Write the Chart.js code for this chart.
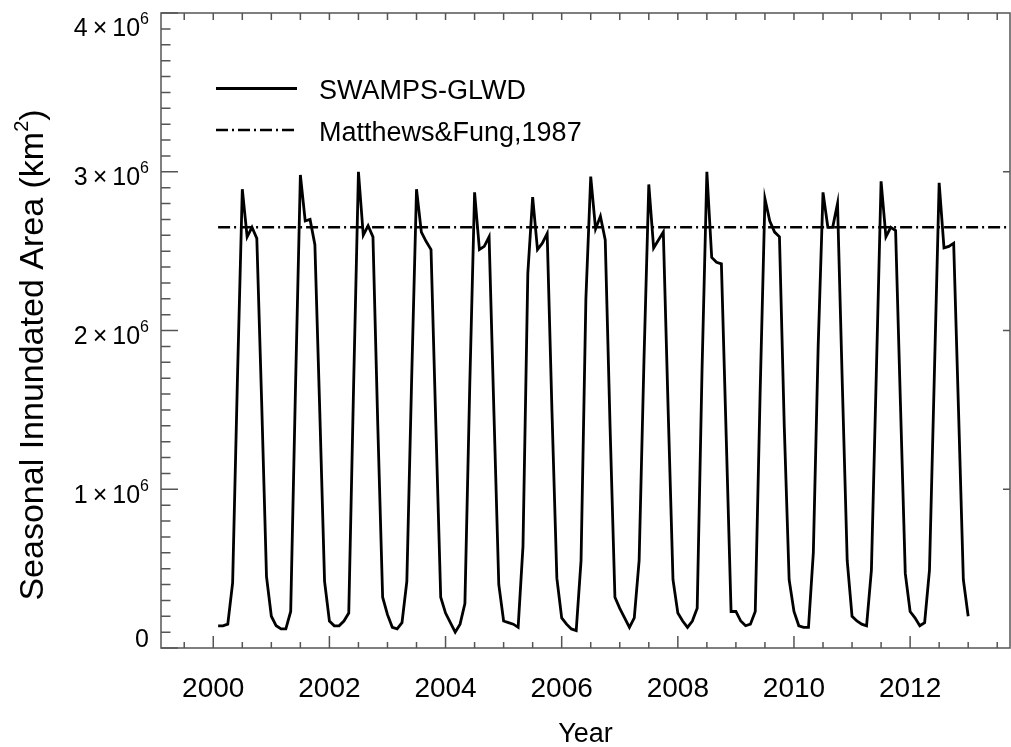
<!DOCTYPE html>
<html>
<head>
<meta charset="utf-8">
<script src="https://cdn.jsdelivr.net/npm/chart.js@4.4.1/dist/chart.umd.min.js"></script>
<style>
  html, body { margin: 0; padding: 0; background: #fff; }
  #wrap { width: 1011px; height: 747px; }
</style>
</head>
<body>
<div id="wrap"><canvas id="chart" width="1011" height="747"></canvas></div>
<script>
// monthly inundated area, 10^6 km2, Jan..Dec
const years = [2000, 2001, 2002, 2003, 2004, 2005, 2006, 2007, 2008, 2009, 2010, 2011, 2012];
const area2000 = [0.14, 0.14, 0.15, 0.41, 1.70, 2.89, 2.59, 2.65, 2.58, 1.55, 0.45, 0.20];
const area2001 = [0.14, 0.12, 0.12, 0.23, 1.65, 2.98, 2.69, 2.70, 2.54, 1.50, 0.42, 0.17];
const area2002 = [0.14, 0.14, 0.17, 0.22, 1.65, 3.00, 2.60, 2.66, 2.59, 1.40, 0.32, 0.21];
const area2003 = [0.13, 0.12, 0.16, 0.42, 1.70, 2.89, 2.62, 2.56, 2.51, 1.40, 0.32, 0.22];
const area2004 = [0.16, 0.10, 0.15, 0.28, 1.65, 2.87, 2.51, 2.53, 2.59, 1.48, 0.40, 0.17];
const area2005 = [0.16, 0.15, 0.13, 0.64, 2.36, 2.84, 2.51, 2.55, 2.61, 1.48, 0.44, 0.19];
const area2006 = [0.15, 0.12, 0.11, 0.55, 2.20, 2.97, 2.64, 2.72, 2.57, 1.39, 0.32, 0.25];
const area2007 = [0.19, 0.13, 0.19, 0.55, 1.81, 2.92, 2.52, 2.57, 2.62, 1.50, 0.43, 0.22];
const area2008 = [0.17, 0.13, 0.17, 0.25, 1.75, 3.00, 2.46, 2.43, 2.42, 1.33, 0.23, 0.23];
const area2009 = [0.17, 0.14, 0.15, 0.23, 1.60, 2.83, 2.69, 2.62, 2.59, 1.39, 0.43, 0.23];
const area2010 = [0.14, 0.13, 0.13, 0.60, 1.90, 2.87, 2.65, 2.65, 2.80, 1.65, 0.55, 0.20];
const area2011 = [0.17, 0.15, 0.14, 0.49, 1.71, 2.94, 2.59, 2.65, 2.63, 1.54, 0.47, 0.23];
const area2012 = [0.19, 0.14, 0.16, 0.49, 1.71, 2.93, 2.52, 2.53, 2.55, 1.50, 0.43, 0.20];
const monthly = [area2000, area2001, area2002, area2003, area2004, area2005, area2006,
                 area2007, area2008, area2009, area2010, area2011, area2012];

const matthewsFung = 2.65; // 10^6 km2, constant reference

const xTicks = [2000, 2002, 2004, 2006, 2008, 2010, 2012];
const yTicks = [0, 1, 2, 3, 4];

const xMin = 1999.1, xMax = 2013.72;

const swampsPoints = [];
years.forEach((yr, i) => {
  monthly[i].forEach((v, m) => swampsPoints.push({ x: yr + (m + 1) / 12, y: v * 1e6 }));
});
const matthewsPoints = [
  { x: years[0] + 1 / 12, y: matthewsFung * 1e6 },
  { x: xMax, y: matthewsFung * 1e6 }
];

const FONT = "'Liberation Sans', Arial, Helvetica, sans-serif";
Chart.defaults.font.family = FONT;
Chart.defaults.color = '#000';

const AXIS = '#555';

// IDL-style box, inward ticks, y labels with exponents, legend and y title
const framePlugin = {
  id: 'frame',
  afterDraw(chart) {
    const { ctx, chartArea: a, scales: { x, y } } = chart;
    ctx.save();
    ctx.strokeStyle = AXIS;
    ctx.lineWidth = 1.5;
    ctx.strokeRect(a.left, a.top, a.right - a.left, a.bottom - a.top);
    ctx.beginPath();
    for (let i = 0; i <= 40; i++) {
      const py = y.getPixelForValue(i * 1e5);
      const major = i % 10 === 0;
      ctx.moveTo(a.left, py);
      ctx.lineTo(a.left + (major ? 17 : 9.5), py);
      if (major && i > 0 && i < 40) {
        ctx.moveTo(a.right, py);
        ctx.lineTo(a.right - 7, py);
      }
    }
    for (let t = 1999.5; t <= xMax; t += 0.5) {
      const px = x.getPixelForValue(t);
      const major = t % 2 === 0;
      ctx.moveTo(px, a.bottom);
      ctx.lineTo(px, a.bottom - (major ? 12 : 6));
      ctx.moveTo(px, a.top);
      ctx.lineTo(px, a.top + 7);
    }
    ctx.stroke();

    // y tick labels
    ctx.fillStyle = '#000';
    ctx.textBaseline = 'alphabetic';
    ctx.textAlign = 'left';
    const right = 149;
    yTicks.forEach(v => {
      const py = y.getPixelForValue(v * 1e6);
      const base = Math.min(Math.max(py + 13.5, a.top + 23), a.bottom - 1);
      if (v === 0) {
        ctx.font = '25px ' + FONT;
        const w = ctx.measureText('0').width;
        ctx.fillText('0', right - w, base);
        return;
      }
      const main = v + '\u2009\u00d7\u200910';
      ctx.font = '16px ' + FONT;
      const ws = ctx.measureText('6').width;
      ctx.font = '25px ' + FONT;
      const wm = ctx.measureText(main).width;
      ctx.fillText(main, right - ws - wm, base);
      ctx.font = '16px ' + FONT;
      ctx.fillText('6', right - ws, base - 12);
    });

    // y axis title
    ctx.save();
    ctx.translate(43, 355);
    ctx.rotate(-Math.PI / 2);
    const t1 = 'Seasonal Innundated Area (km';
    ctx.font = '34px ' + FONT;
    const w1 = ctx.measureText(t1).width;
    const w3 = ctx.measureText(')').width;
    ctx.font = '20px ' + FONT;
    const w2 = ctx.measureText('2').width;
    const sx = -(w1 + w2 + w3) / 2;
    ctx.font = '34px ' + FONT;
    ctx.fillText(t1, sx, 0);
    ctx.font = '20px ' + FONT;
    ctx.fillText('2', sx + w1, -15);
    ctx.font = '34px ' + FONT;
    ctx.fillText(')', sx + w1 + w2, 0);
    ctx.restore();

    // legend
    const rows = [88.5, 130];
    chart.data.datasets.forEach((ds, i) => {
      ctx.beginPath();
      ctx.strokeStyle = ds.borderColor;
      ctx.lineWidth = ds.borderWidth;
      ctx.setLineDash(ds.borderDash || []);
      ctx.moveTo(216, rows[i]);
      ctx.lineTo(297, rows[i]);
      ctx.stroke();
      ctx.setLineDash([]);
      ctx.font = '27px ' + FONT;
      ctx.fillStyle = '#000';
      ctx.fillText(ds.label, 319, rows[i] + 10.5);
    });
    ctx.restore();
  }
};

new Chart(document.getElementById('chart').getContext('2d'), {
  type: 'line',
  data: {
    datasets: [
      {
        label: 'SWAMPS-GLWD',
        data: swampsPoints,
        borderColor: '#000',
        borderWidth: 2.8,
        pointRadius: 0,
        tension: 0,
        fill: false
      },
      {
        label: 'Matthews&Fung,1987',
        data: matthewsPoints,
        borderColor: '#000',
        borderWidth: 2.5,
        borderDash: [12, 4, 2, 4],
        pointRadius: 0,
        fill: false
      }
    ]
  },
  options: {
    responsive: false,
    animation: false,
    events: [],
    layout: { padding: { left: 0, right: 1, top: 13, bottom: 0 } },
    plugins: {
      legend: { display: false },
      tooltip: { enabled: false }
    },
    scales: {
      x: {
        type: 'linear',
        min: xMin,
        max: xMax,
        grid: { display: false, drawTicks: false },
        border: { display: false },
        afterBuildTicks: s => { s.ticks = xTicks.map(v => ({ value: v })); },
        afterFit: s => { s.height = 99; },
        ticks: {
          font: { size: 28 },
          color: '#000',
          padding: 24,
          maxRotation: 0,
          autoSkip: false,
          callback: v => String(v)
        },
        title: {
          display: true,
          text: 'Year',
          font: { size: 27 },
          color: '#000',
          padding: { top: 0, bottom: -4 }
        }
      },
      y: {
        type: 'linear',
        min: 0,
        max: 4e6,
        grid: { display: false, drawTicks: false },
        border: { display: false },
        ticks: { display: false },
        afterFit: s => { s.width = 161; }
      }
    }
  },
  plugins: [framePlugin]
});
</script>
</body>
</html>
